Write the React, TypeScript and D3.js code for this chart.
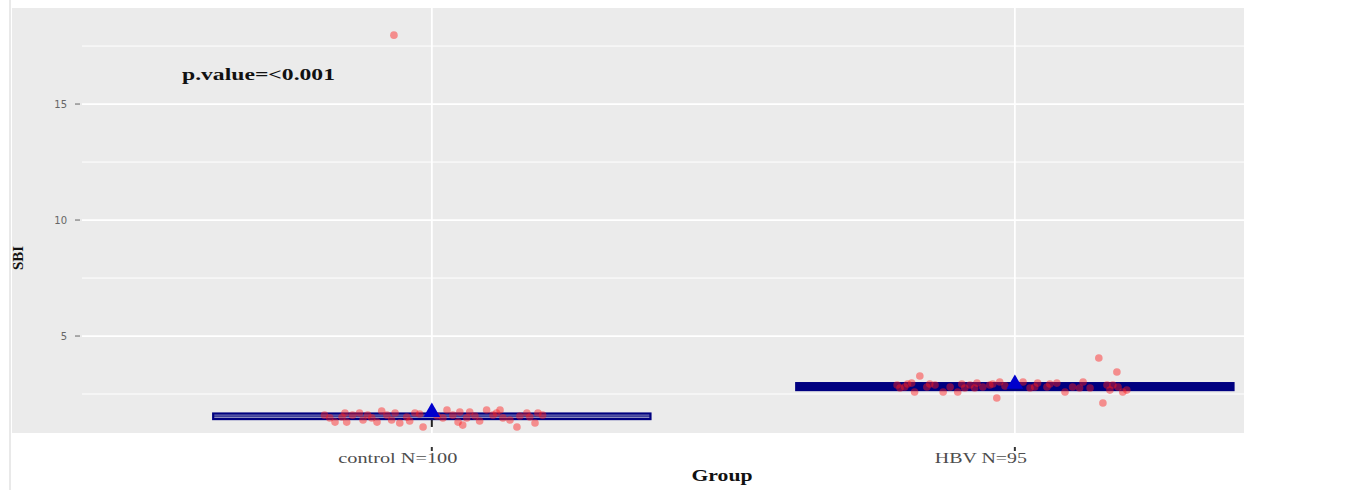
import React from "react";
import * as d3 from "d3";

const categories = ["control N=100", "HBV N=95"];
const yTicks = [5, 10, 15];
const yMinor = [2.5, 7.5, 12.5, 17.5];

// box stats per category: q1, median, q3, whisker low, whisker high, mean
const q1 = [1.42, 2.67];
const median = [1.55, 2.8];
const q3 = [1.66, 2.97];
const whiskerLow = [1.08, 2.67];
const whiskerHigh = [1.66, 2.97];
const means = [1.72, 2.93];

// jittered points: [offset (category units), value]
const controlPoints: [number, number][] = [
  [-0.184, 1.59], [-0.175, 1.47], [-0.166, 1.29], [-0.154, 1.51], [-0.149, 1.68],
  [-0.146, 1.29], [-0.136, 1.59], [-0.124, 1.68], [-0.118, 1.38], [-0.11, 1.59],
  [-0.103, 1.47], [-0.094, 1.29], [-0.086, 1.77], [-0.077, 1.59], [-0.069, 1.38],
  [-0.063, 1.68], [-0.055, 1.25], [-0.043, 1.51], [-0.038, 1.34], [-0.029, 1.68],
  [-0.021, 1.64], [-0.015, 1.08], [0.009, 1.55], [0.019, 1.47], [0.026, 1.81],
  [0.036, 1.59], [0.045, 1.29], [0.048, 1.72], [0.053, 1.16], [0.06, 1.47],
  [0.065, 1.72], [0.074, 1.55], [0.082, 1.34], [0.094, 1.81], [0.105, 1.59],
  [0.111, 1.68], [0.117, 1.81], [0.122, 1.47], [0.134, 1.38], [0.146, 1.08],
  [0.151, 1.55], [0.163, 1.68], [0.168, 1.51], [0.177, 1.25], [0.182, 1.68],
  [0.19, 1.59], [-0.065, 17.97],
];
const hbvPoints: [number, number][] = [
  [-0.202, 2.89], [-0.197, 2.76], [-0.189, 2.8], [-0.184, 2.93], [-0.177, 2.97],
  [-0.172, 2.59], [-0.163, 3.28], [-0.151, 2.8], [-0.146, 2.93], [-0.137, 2.89],
  [-0.123, 2.59], [-0.111, 2.8], [-0.098, 2.59], [-0.091, 2.93], [-0.086, 2.76],
  [-0.077, 2.89], [-0.069, 2.76], [-0.065, 2.97], [-0.055, 2.8], [-0.043, 2.89],
  [-0.038, 2.93], [-0.031, 2.33], [-0.026, 3.02], [-0.017, 2.85], [0.014, 3.02],
  [0.026, 2.76], [0.034, 2.8], [0.039, 2.97], [0.055, 2.8], [0.06, 2.93],
  [0.072, 2.97], [0.086, 2.59], [0.099, 2.8], [0.111, 2.76], [0.117, 3.02],
  [0.129, 2.76], [0.144, 4.05], [0.151, 2.11], [0.158, 2.89], [0.163, 2.67],
  [0.168, 2.89], [0.175, 3.45], [0.177, 2.8], [0.185, 2.59], [0.192, 2.67],
];
const pointSets = [controlPoints, hbvPoints];

const W = 1367;
const H = 490;
const panel = { left: 82, right: 1244, top: 8, bottom: 433 };

export default function App() {
  const x = d3.scaleLinear().domain([0.4, 2.393]).range([panel.left, panel.right]);
  const y = d3.scaleLinear().domain([0.82, 19.14]).range([panel.bottom, panel.top]);
  const boxHalf = 0.375;
  const serif = "'Liberation Serif', 'DejaVu Serif', serif";
  const tri = d3.symbol().type(d3.symbolTriangle).size(120);
  const labelLen = [119, 92];

  return (
    <svg width={W} height={H} style={{ position: "absolute", left: 0, top: 0 }}>
      <rect x={0} y={0} width={W} height={H} fill="#ffffff" />
      <line x1={10} x2={10} y1={0} y2={H} stroke="#e2e2e2" strokeWidth={1.5} />
      <rect x={12} y={panel.top} width={panel.right - 12} height={panel.bottom - panel.top} fill="#ebebeb" />
      {yMinor.map((v) => (
        <line key={"mn" + v} x1={panel.left} x2={panel.right} y1={y(v)} y2={y(v)} stroke="#ffffff" strokeWidth={1} />
      ))}
      {yTicks.map((v) => (
        <line key={"mj" + v} x1={panel.left} x2={panel.right} y1={y(v)} y2={y(v)} stroke="#ffffff" strokeWidth={1.8} />
      ))}
      {categories.map((c, i) => (
        <line key={"vg" + c} x1={x(i + 1)} x2={x(i + 1)} y1={panel.top} y2={panel.bottom} stroke="#ffffff" strokeWidth={1.8} />
      ))}
      {yTicks.map((v) => (
        <g key={"yt" + v}>
          <line x1={75} x2={80} y1={y(v)} y2={y(v)} stroke="#666" strokeWidth={1} />
          <text x={67} y={y(v)} dy="0.35em" textAnchor="end" fontSize={10} fill="#666" fontFamily="'DejaVu Sans', sans-serif">
            {v}
          </text>
        </g>
      ))}
      {/* whiskers */}
      {categories.map((c, i) => (
        <g key={"wk" + c}>
          <line x1={x(i + 1)} x2={x(i + 1)} y1={y(q1[i])} y2={y(whiskerLow[i])} stroke="#222" strokeWidth={2} />
          <line x1={x(i + 1)} x2={x(i + 1)} y1={y(q3[i])} y2={y(whiskerHigh[i])} stroke="#222" strokeWidth={2} />
        </g>
      ))}
      {/* boxes */}
      {categories.map((c, i) => (
        <g key={"bx" + c}>
          <rect
            x={x(i + 1 - boxHalf)}
            y={y(q3[i])}
            width={x(i + 1 + boxHalf) - x(i + 1 - boxHalf)}
            height={y(q1[i]) - y(q3[i])}
            fill={i === 0 ? "#8f90c0" : "#000080"}
            stroke="#000080"
            strokeWidth={2.2}
          />
          <line
            x1={x(i + 1 - boxHalf)}
            x2={x(i + 1 + boxHalf)}
            y1={y(median[i])}
            y2={y(median[i])}
            stroke="#000080"
            strokeWidth={1}
          />
        </g>
      ))}
      {/* jitter points */}
      {pointSets.map((pts, i) =>
        pts.map(([dx, v], j) => (
          <circle
            key={"p" + i + "-" + j}
            cx={x(i + 1 + dx)}
            cy={y(v)}
            r={3.8}
            fill="#ff1a1a"
            fillOpacity={0.45}
          />
        ))
      )}
      {/* means */}
      {categories.map((c, i) => (
        <path key={"mean" + c} d={tri() as string} transform={`translate(${x(i + 1)},${y(means[i])})`} fill="#0000cd" />
      ))}
      {/* x axis labels */}
      {categories.map((c, i) => (
        <g key={"xl" + c}>
          <line x1={x(i + 1)} x2={x(i + 1)} y1={447} y2={451} stroke="#333" strokeWidth={2} />
          <text
            x={x(i + 1) - 34}
            y={463}
            textAnchor="middle"
            fontSize={14}
            fill="#4d4d4d"
            fontFamily={serif}
            textLength={labelLen[i]}
            lengthAdjust="spacingAndGlyphs"
          >
            {c}
          </text>
        </g>
      ))}
      <text x={722} y={481} textAnchor="middle" fontSize={16} fontWeight="bold" fill="#111" fontFamily={serif} textLength={61} lengthAdjust="spacingAndGlyphs">
        Group
      </text>
      <text transform={`translate(23,258) rotate(-90)`} textAnchor="middle" fontSize={15} fontWeight="bold" fill="#111" fontFamily={serif}>
        SBI
      </text>
      <text x={182} y={80} fontSize={16} fontWeight="bold" fill="#111" fontFamily={serif} textLength={153} lengthAdjust="spacingAndGlyphs">
        p.value=&lt;0.001
      </text>
    </svg>
  );
}
